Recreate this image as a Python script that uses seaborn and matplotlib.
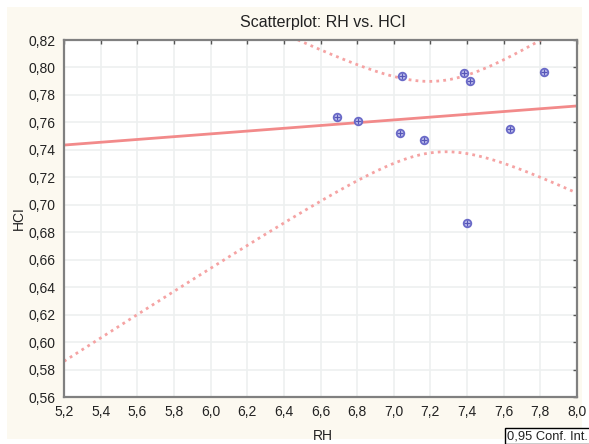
import numpy as np
import pandas as pd
import matplotlib
matplotlib.use("Agg")
import matplotlib.pyplot as plt
import seaborn as sns
from matplotlib.patches import Rectangle

# Data
rh = [6.689, 6.806, 7.043, 7.034, 7.163, 7.383, 7.418, 7.401, 7.634, 7.822]
hci = [0.7637, 0.7608, 0.7938, 0.7523, 0.7472, 0.7957, 0.7904, 0.6865, 0.7552, 0.7967]
x_ticks = [5.2, 5.4, 5.6, 5.8, 6.0, 6.2, 6.4, 6.6, 6.8, 7.0, 7.2, 7.4, 7.6, 7.8, 8.0]
y_ticks = [0.56, 0.58, 0.60, 0.62, 0.64, 0.66, 0.68, 0.70, 0.72, 0.74, 0.76, 0.78, 0.80, 0.82]
conf_level = 0.95
t_crit = 2.306  # t(0.975, df=8)

df = pd.DataFrame({"RH": rh, "HCI": hci})

sns.set_style("white")
plt.rcParams['font.family'] = ['Liberation Sans', 'DejaVu Sans']

fig = plt.figure(figsize=(5.89, 4.44), dpi=100)
fig.patch.set_facecolor("white")
W, H = 589, 444
fig.patches.append(Rectangle((7 / W, 1 - 439 / H), (582 - 7) / W, (439 - 7) / H,
                             transform=fig.transFigure, facecolor="#fcf9f0",
                             edgecolor="none", zorder=-10))

ax = fig.add_axes([64 / W, 1 - 397 / H, (577 - 64) / W, (397 - 40) / H])
ax.set_facecolor("white")
ax.set_xlim(5.2, 8.0)
ax.set_ylim(0.56, 0.82)
ax.set_xticks(x_ticks)
ax.set_yticks(y_ticks)
ax.grid(True, color="#edf0f0", linewidth=1.2)
ax.set_axisbelow(True)

# Regression line + confidence bands computed from the data
x = np.array(rh)
y = np.array(hci)
n = len(x)
b, a = np.polyfit(x, y, 1)
resid = y - (a + b * x)
s = np.sqrt(np.sum(resid ** 2) / (n - 2))
xs = np.linspace(5.2, 8.0, 200)
yhat = a + b * xs
se = s * np.sqrt(1 / n + (xs - x.mean()) ** 2 / np.sum((x - x.mean()) ** 2))
band = pd.DataFrame({"x": xs, "lo": yhat - t_crit * se, "hi": yhat + t_crit * se})

sns.regplot(data=df, x="RH", y="HCI", ax=ax, ci=None, truncate=False, scatter=False,
            line_kws=dict(color="#f28a8a", lw=2.0))
sns.lineplot(data=band, x="x", y="lo", ax=ax, color="#f5a3a3", lw=2.0,
             linestyle=(0, (1, 1.5)))
sns.lineplot(data=band, x="x", y="hi", ax=ax, color="#f5a3a3", lw=2.0,
             linestyle=(0, (1, 1.5)))

sns.scatterplot(data=df, x="RH", y="HCI", ax=ax, marker="o", s=30,
                facecolor="#c4c4ef", edgecolor="#6a6ac8", linewidth=1.3, zorder=5)
sns.scatterplot(data=df, x="RH", y="HCI", ax=ax, marker="+", s=16,
                color="#5656b8", linewidth=0.9, zorder=6)

ax.set_xlim(5.2, 8.0)
ax.set_ylim(0.56, 0.82)
ax.set_xticklabels([f"{v:.1f}".replace(".", ",") for v in x_ticks])
ax.set_yticklabels([f"{v:.2f}".replace(".", ",") for v in y_ticks])
ax.tick_params(axis="both", direction="in", length=3, width=1, color="#555555",
               labelsize=10, labelcolor="#222222", pad=6,
               top=True, right=True)
for sp in ax.spines.values():
    sp.set_color("#808080")
    sp.set_linewidth(1.6)

ax.set_xlabel("")
ax.set_ylabel("")
fig.text(323 / W, 1 - 436 / H, "RH", ha="center", va="center", fontsize=10, color="#222222")
fig.text(19 / W, 1 - 218 / H, "HCI", ha="center", va="center", rotation=90,
         fontsize=10, color="#222222")
fig.text(323 / W, 1 - 22 / H, "Scatterplot: RH vs. HCI", ha="center", va="center",
         fontsize=11.5, color="#222222")
fig.text(507 / W, 1 - 436 / H, f"{conf_level:.2f}".replace(".", ",") + " Conf. Int.",
         ha="left", va="center", fontsize=9.3, color="#222222",
         bbox=dict(boxstyle="square,pad=0.15", facecolor="white", edgecolor="black", lw=1))

fig.savefig("out.png", dpi=100, facecolor=fig.get_facecolor())
